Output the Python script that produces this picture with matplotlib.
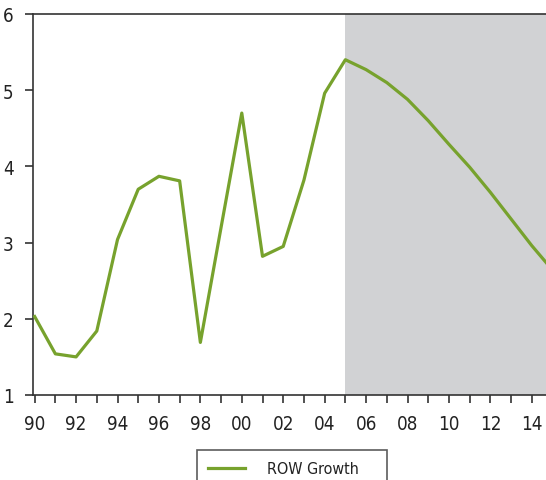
import matplotlib
matplotlib.use("Agg")
import matplotlib.pyplot as plt

plt.rcParams['font.family'] = ['DejaVu Sans']
plt.rcParams['font.stretch'] = 'condensed'

# rest-of-world growth, % (forecast from 2005 on)
years = list(range(1990, 2016))
row_growth = [2.03, 1.54, 1.50, 1.84, 3.04, 3.70, 3.87, 3.81, 1.69, 3.20,
              4.70, 2.82, 2.95, 3.82, 4.96, 5.40, 5.27, 5.10, 4.88, 4.60,
              4.29, 3.99, 3.66, 3.31, 2.96, 2.64]
forecast_start = 2005
tick_years = list(range(1990, 2016, 2))
tick_labels = ["%02d" % (y % 100) for y in tick_years]

green = '#77a22d'
shade = '#d1d2d4'

fig = plt.figure(figsize=(5.46, 4.81), dpi=100)
ax = fig.add_axes([33 / 546, 85 / 481, (560 - 33) / 546, 381 / 481])

ax.axvspan(forecast_start, 2017, color=shade, lw=0, zorder=0)
ax.plot(years, row_growth, color=green, lw=2.3, label='ROW Growth', zorder=3)

ax.set_xlim(1989.92, 1990 + (560 - 35) / 20.7)
ax.set_ylim(1, 6)
ax.set_yticks([1, 2, 3, 4, 5, 6])
ax.set_yticklabels(['1', '2', '3', '4', '5', '6'])
ax.set_xticks(years)
ax.set_xticklabels([tick_labels[tick_years.index(y)] if y in tick_years else '' for y in years])

for s in ['left', 'bottom', 'top', 'right']:
    ax.spines[s].set_color('#333333')
    ax.spines[s].set_linewidth(1.2)
ax.tick_params(axis='both', direction='out', length=6, width=1.2, color='#333333',
               labelsize=13.5, labelcolor='#222222')
ax.tick_params(axis='x', pad=8)
ax.tick_params(axis='y', pad=8)

leg = fig.legend(loc='upper left', bbox_to_anchor=(197 / 546, 0, 190 / 546, 30 / 481),
                 mode='expand', borderaxespad=0, frameon=True, fancybox=False,
                 fontsize=11.5, handlelength=2.3, handletextpad=1.4, borderpad=0.7)
leg.get_frame().set_edgecolor('#333333')
leg.get_frame().set_linewidth(1.2)
for t in leg.get_texts():
    t.set_color('#222222')

fig.savefig('out.png', dpi=100)
